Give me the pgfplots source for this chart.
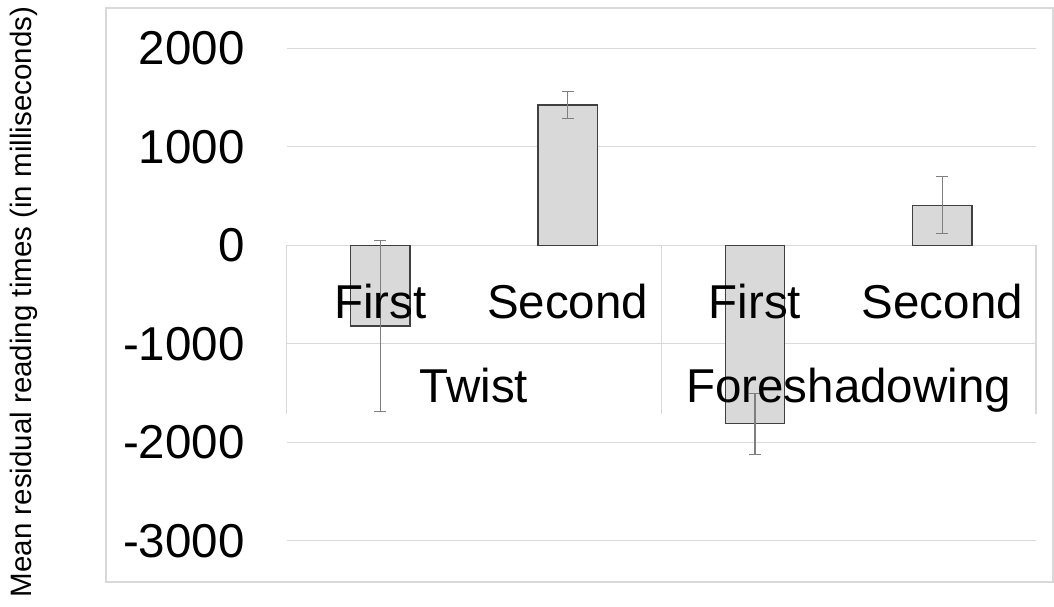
\documentclass[border=0pt]{standalone}
\usepackage{pgfplots}
\pgfplotsset{compat=1.18}
\usepackage{fontspec}
\setmainfont{Liberation Sans}
\definecolor{gridgray}{HTML}{D9D9D9}
\definecolor{barfill}{HTML}{D9D9D9}
\definecolor{baredge}{HTML}{404040}
\definecolor{errgray}{HTML}{7F7F7F}
\begin{document}
\begin{tikzpicture}
\useasboundingbox (-286.7pt,-66.3pt) rectangle (767.3pt,540.7pt);
\draw[gridgray, line width=2pt] (-181pt,-41pt) rectangle (766.3pt,533pt);
\begin{axis}[
 scale only axis, width=749.3pt, height=492.4pt,
 xmin=-0.5, xmax=3.5, ymin=-3000, ymax=2000,
 axis line style={draw=none},
 major tick length=0pt,
 xtick=\empty,
 ytick={-3000,-2000,-1000,0,1000,2000},
 yticklabels={-3000,-2000,-1000,0,1000,2000},
 yticklabel style={font=\fontsize{47.5}{57}\selectfont, anchor=east, inner sep=0pt, xshift=-42pt},
 ymajorgrids, grid style={gridgray, line width=1pt},
 clip=false,
]
\draw[gridgray, line width=1.2pt] (-0.5,0) -- (-0.5,-1713) (1.5,0) -- (1.5,-1713) (3.5,0) -- (3.5,-1713);
\draw[gridgray, line width=1.2pt] (-0.5,-1000) -- (3.5,-1000);
\draw[gridgray, line width=1.2pt] (-0.5,0) -- (3.5,0);
\addplot[ybar, bar width=59.3pt, fill=barfill, draw=baredge, line width=1.3pt,
 error bars/.cd, y dir=both, y explicit,
 error bar style={errgray, line width=1.2pt},
 error mark options={rotate=90, mark size=6pt, errgray, line width=1.2pt}]
 coordinates {(0,-821) +- (0,868) (1,1424) +- (0,135) (2,-1812) +- (0,310) (3,406) +- (0,290)};
\node[font=\fontsize{47.5}{57}\selectfont, anchor=base, inner sep=0pt] at (0,-741) {First};
\node[font=\fontsize{47.5}{57}\selectfont, anchor=base, inner sep=0pt] at (1,-741) {Second};
\node[font=\fontsize{47.5}{57}\selectfont, anchor=base, inner sep=0pt] at (2,-741) {First};
\node[font=\fontsize{47.5}{57}\selectfont, anchor=base, inner sep=0pt] at (3,-741) {Second};
\node[font=\fontsize{47.5}{57}\selectfont, anchor=base, inner sep=0pt] at (0.5,-1598) {Twist};
\node[font=\fontsize{47.5}{57}\selectfont, anchor=base, inner sep=0pt] at (2.5,-1598) {Foreshadowing};
\end{axis}
\node[rotate=90, font=\fontsize{29.5}{35}\selectfont, inner sep=0pt] at (-263pt,238.7pt) {Mean residual reading times (in milliseconds)};
\end{tikzpicture}
\end{document}
